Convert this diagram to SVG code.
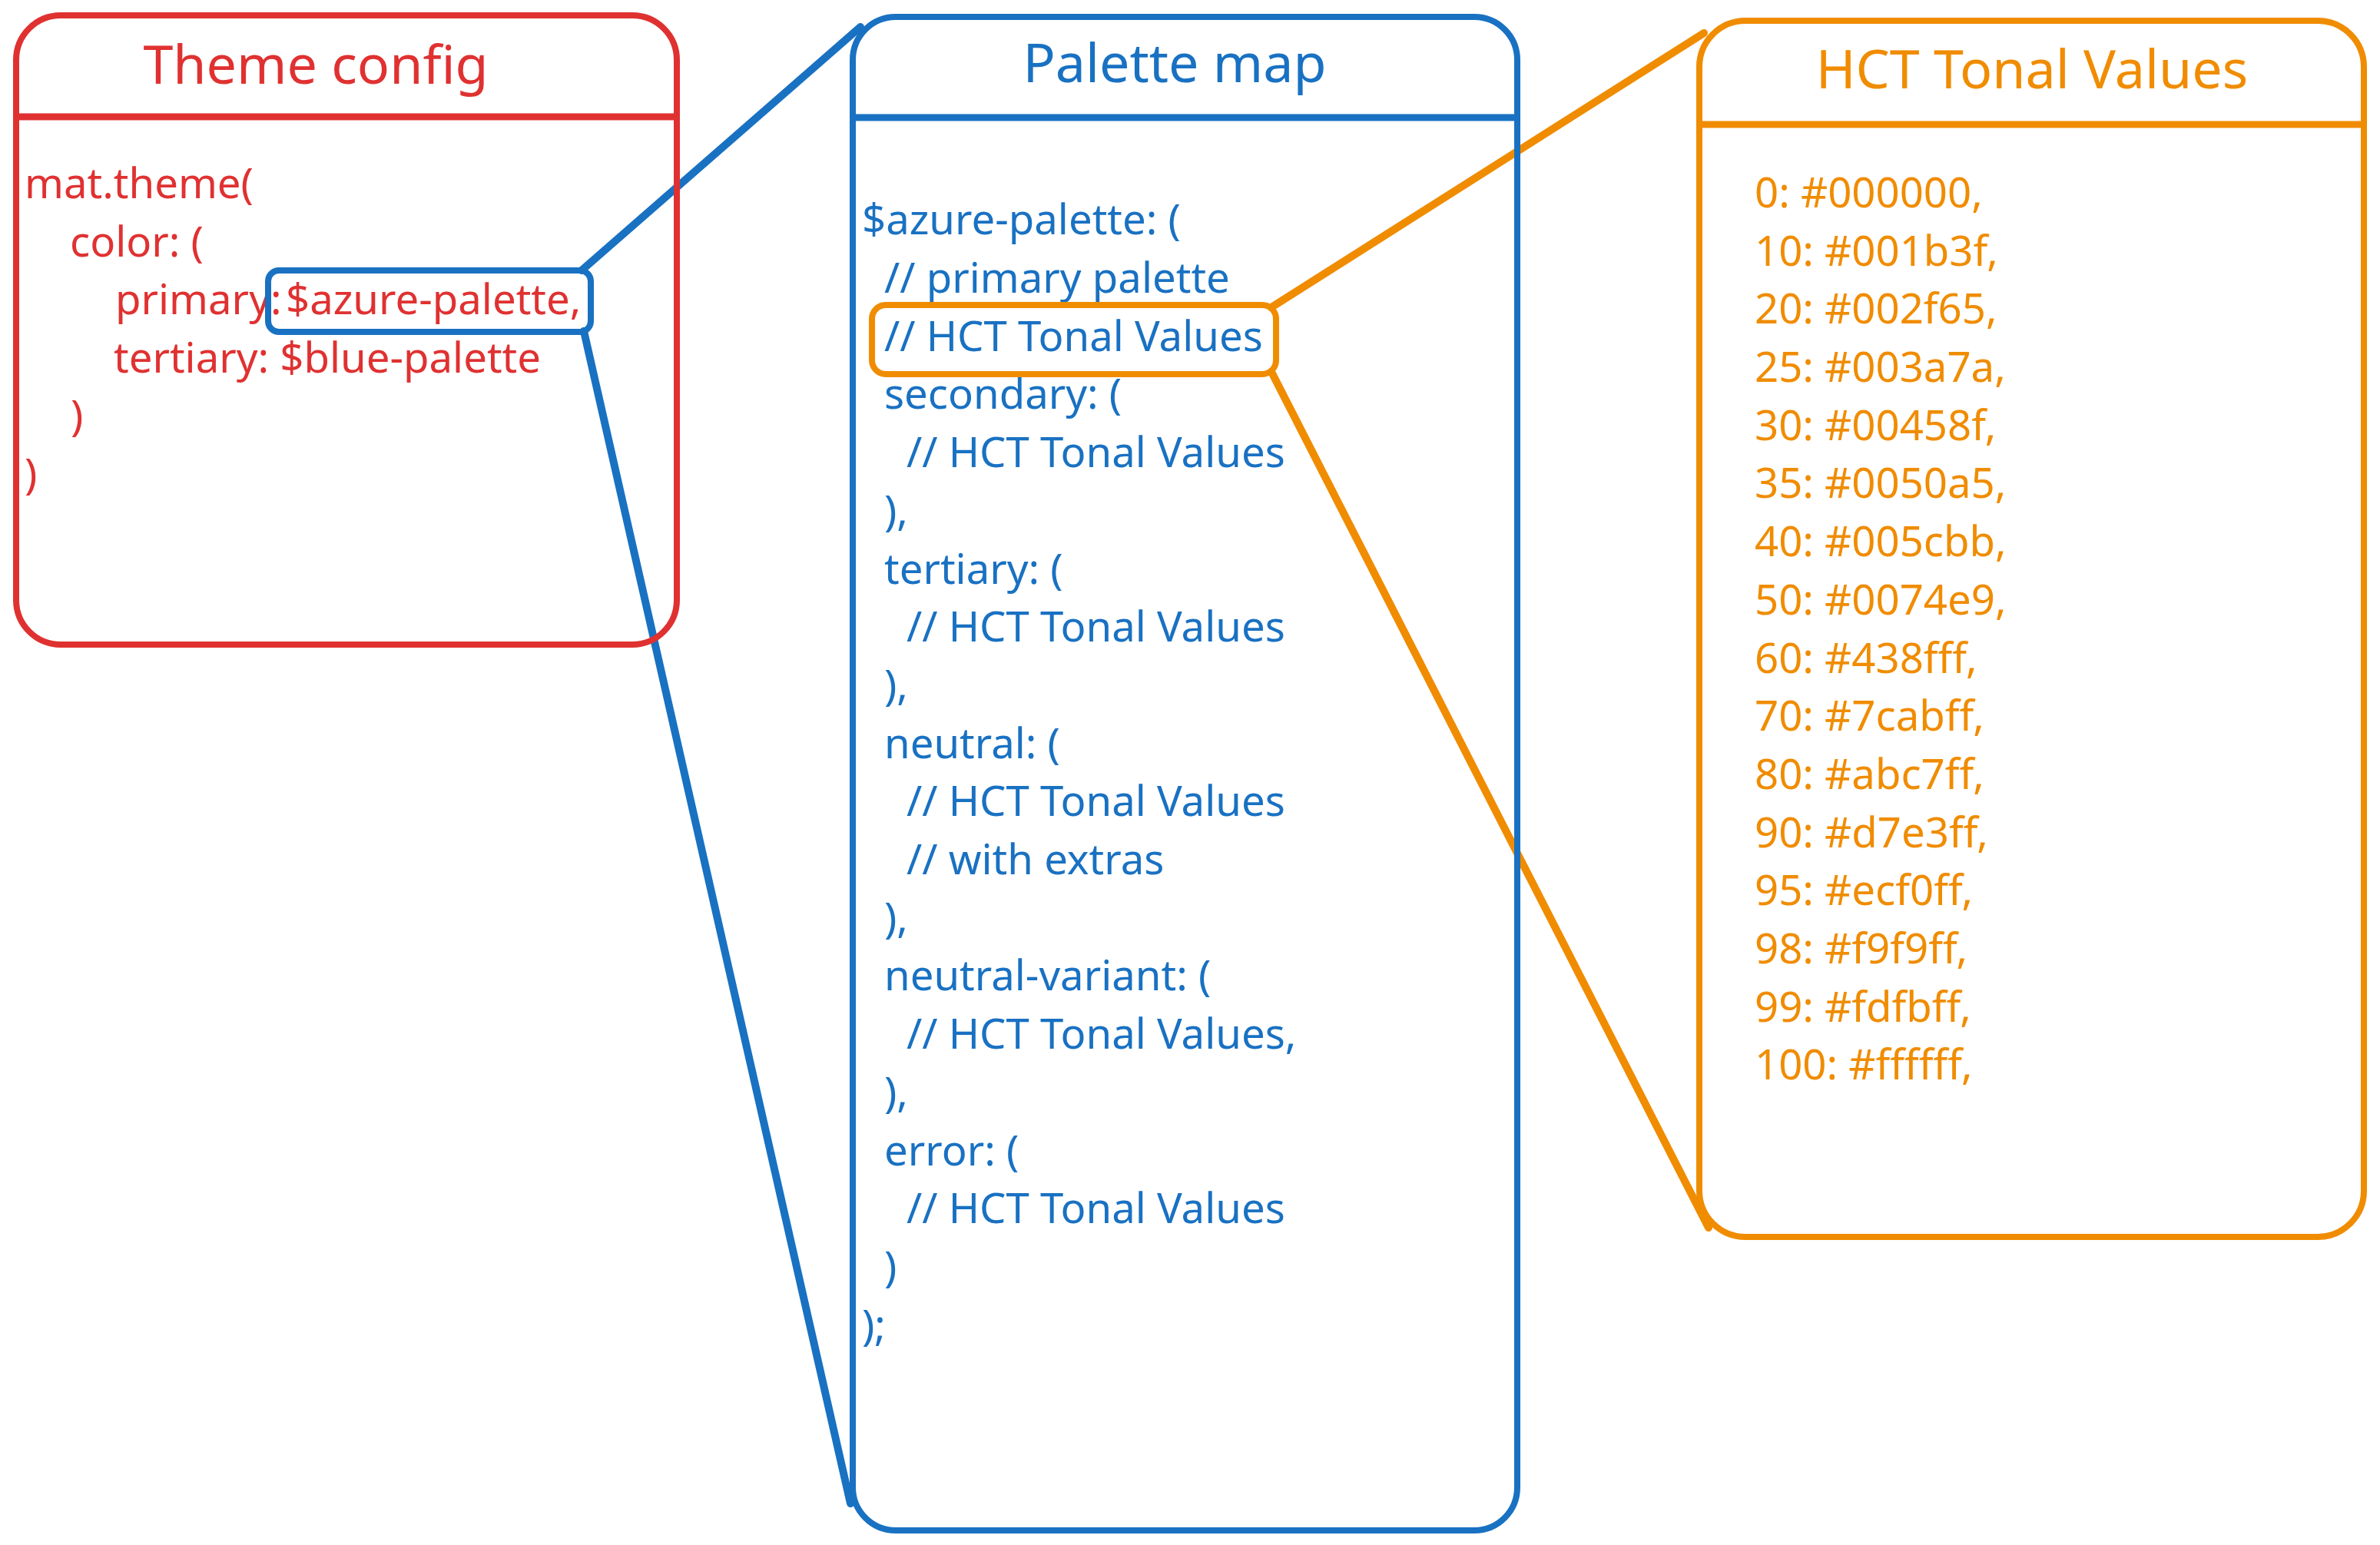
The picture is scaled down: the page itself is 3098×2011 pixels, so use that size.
<svg xmlns="http://www.w3.org/2000/svg" width="3098" height="2011" viewBox="0 0 3098 2011">
<style>
.t{font-family:"Noto Sans","Open Sans",sans-serif;font-size:54.5px}
.h{font-family:"Noto Sans","Open Sans",sans-serif;font-size:70px;text-anchor:middle}
.red{fill:#e03131}.blue{fill:#1971c2}.orange{fill:#f08c00}
.box{fill:none;stroke-width:8;stroke-linejoin:round}
.conn{fill:none;stroke-width:10;stroke-linecap:round}
</style>
<rect width="3098" height="2011" fill="#ffffff"/>
<g id="connectors">
<line class="conn" x1="757" y1="352" x2="1120" y2="35" stroke="#1971c2"/>
<line class="conn" x1="760" y1="431" x2="1107" y2="1957" stroke="#1971c2"/>
<line class="conn" x1="1655" y1="400" x2="2218" y2="43" stroke="#f08c00" stroke-width="11"/>
<line class="conn" x1="1655" y1="484" x2="2224" y2="1598" stroke="#f08c00" stroke-width="8"/>
</g>
<g id="theme-config">
<rect class="box" x="21" y="20" width="860" height="819" rx="58" stroke="#e03131"/>
<line x1="21" y1="152" x2="881" y2="152" stroke="#e03131" stroke-width="9"/>
<text class="h red" x="411" y="109">Theme config</text>
<text class="t red" x="32" y="258">mat.theme(</text>
<text class="t red" x="91" y="334">color: (</text>
<text class="t red" x="150" y="409">primary: <tspan x="372">$azure-palette,</tspan></text>
<text class="t red" x="148" y="485">tertiary: $blue-palette</text>
<text class="t red" x="92" y="560">)</text>
<text class="t red" x="32" y="636">)</text>
</g>
<g id="azure-highlight">
<rect class="box" x="349" y="352" width="420" height="80" rx="14" stroke="#1971c2" stroke-width="9"/>
</g>
<g id="palette-map">
<rect class="box" x="1110" y="22" width="865" height="1970" rx="56" stroke="#1971c2"/>
<line x1="1110" y1="153" x2="1975" y2="153" stroke="#1971c2" stroke-width="9"/>
<text class="h blue" x="1529" y="107">Palette map</text>
<g class="t blue">
<text x="1122" y="305">$azure-palette: (</text>
<text x="1151" y="381">// primary palette</text>
<text x="1151" y="457">// HCT Tonal Values</text>
<text x="1151" y="532">secondary: (</text>
<text x="1180" y="608">// HCT Tonal Values</text>
<text x="1151" y="684">),</text>
<text x="1151" y="760">tertiary: (</text>
<text x="1180" y="835">// HCT Tonal Values</text>
<text x="1151" y="911">),</text>
<text x="1151" y="987">neutral: (</text>
<text x="1180" y="1062">// HCT Tonal Values</text>
<text x="1180" y="1138">// with extras</text>
<text x="1151" y="1214">),</text>
<text x="1151" y="1289">neutral-variant: (</text>
<text x="1180" y="1365">// HCT Tonal Values,</text>
<text x="1151" y="1441">),</text>
<text x="1151" y="1517">error: (</text>
<text x="1180" y="1592">// HCT Tonal Values</text>
<text x="1151" y="1668">)</text>
<text x="1122" y="1744">);</text>
</g>
</g>
<g id="hct-highlight">
<rect class="box" x="1135" y="397" width="526" height="90" rx="18" stroke="#f08c00" stroke-width="9"/>
</g>
<g id="hct-tonal-values">
<rect class="box" x="2212" y="27" width="865" height="1583" rx="60" stroke="#f08c00"/>
<line x1="2212" y1="162" x2="3077" y2="162" stroke="#f08c00" stroke-width="9"/>
<text class="h orange" x="2645" y="115">HCT Tonal Values</text>
<g class="t orange">
<text x="2284" y="270">0: #000000,</text>
<text x="2284" y="346">10: #001b3f,</text>
<text x="2284" y="421">20: #002f65,</text>
<text x="2284" y="497">25: #003a7a,</text>
<text x="2284" y="573">30: #00458f,</text>
<text x="2284" y="648">35: #0050a5,</text>
<text x="2284" y="724">40: #005cbb,</text>
<text x="2284" y="800">50: #0074e9,</text>
<text x="2284" y="876">60: #438fff,</text>
<text x="2284" y="951">70: #7cabff,</text>
<text x="2284" y="1027">80: #abc7ff,</text>
<text x="2284" y="1103">90: #d7e3ff,</text>
<text x="2284" y="1178">95: #ecf0ff,</text>
<text x="2284" y="1254">98: #f9f9ff,</text>
<text x="2284" y="1330">99: #fdfbff,</text>
<text x="2284" y="1405">100: #ffffff,</text>
</g>
</g>
</svg>
